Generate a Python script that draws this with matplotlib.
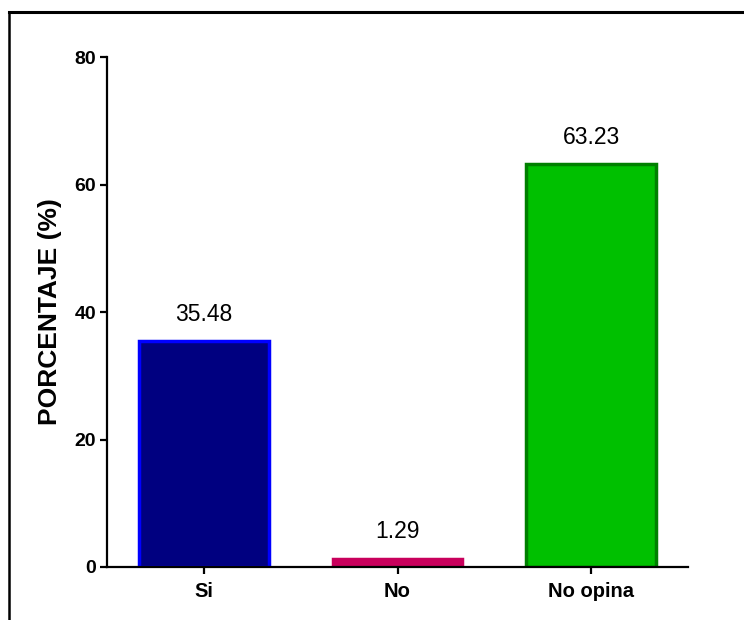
import matplotlib.pyplot as plt
from matplotlib.lines import Line2D

categorias = ['Si', 'No', 'No opina']
porcentajes = [35.48, 1.29, 63.23]
rellenos = ['#000080', '#C8005C', '#00C000']
bordes = ['#0000FF', '#C8005C', '#008000']

plt.rcParams['font.family'] = ['Liberation Sans', 'DejaVu Sans']

fig = plt.figure(figsize=(7.44, 6.2), dpi=100)
ax = fig.add_axes([0.1438, 0.0855, 0.781, 0.8225])

pos = range(len(categorias))
ax.bar(pos, porcentajes, width=0.67, color=rellenos, edgecolor=bordes, linewidth=2.5, zorder=2)
for x, v in zip(pos, porcentajes):
    ax.annotate(f'{v:.2f}', (x, v), xytext=(0, 11), textcoords='offset points',
                ha='center', va='bottom', fontsize=16.5)

ax.set_xlim(-0.5, 2.5)
ax.set_ylim(0, 80)
ax.set_yticks([0, 20, 40, 60, 80])
ax.set_xticks(list(pos))
ax.set_xticklabels(categorias, fontweight='bold', fontsize=14.5)
for lab in ax.get_yticklabels():
    lab.set_fontweight('bold')
    lab.set_fontsize(14)
ax.set_ylabel('PORCENTAJE (%)', fontweight='bold', fontsize=19, labelpad=9)

ax.spines['top'].set_visible(False)
ax.spines['right'].set_visible(False)
ax.spines['left'].set_linewidth(1.6)
ax.spines['bottom'].set_linewidth(1.6)
ax.spines['bottom'].set_zorder(3)
ax.tick_params(direction='out', length=5, width=1.6, pad=3)
ax.tick_params(axis='x', pad=6)

# marco superior e izquierdo
fig.add_artist(Line2D([9/744, 1.0], [1 - 12/620, 1 - 12/620], color='black', linewidth=2.2,
                      transform=fig.transFigure))
fig.add_artist(Line2D([9/744, 9/744], [0.0, 1 - 12/620], color='black', linewidth=1.8,
                      transform=fig.transFigure))

fig.savefig('out.png', dpi=100)
